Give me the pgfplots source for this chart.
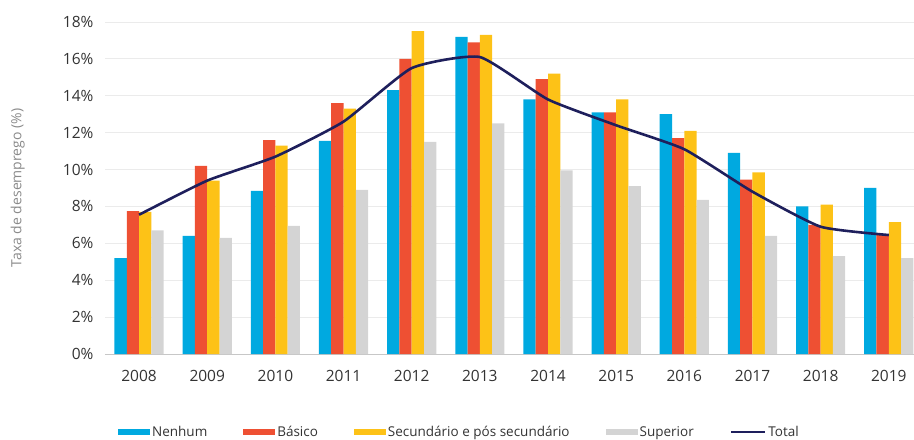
\documentclass[border=0pt]{standalone}
\usepackage{fontspec}
\setmainfont{Open Sans}
\usepackage{pgfplots}
\pgfplotsset{compat=1.18}
\definecolor{cNen}{HTML}{00A9E0}
\definecolor{cBas}{HTML}{EE5033}
\definecolor{cSec}{HTML}{FDC217}
\definecolor{cSup}{HTML}{D4D4D4}
\definecolor{cTot}{HTML}{1E1F5C}
\definecolor{cTick}{HTML}{333333}
\definecolor{cLab}{HTML}{8A8A8A}
\begin{document}
\begin{tikzpicture}
\begin{axis}[
  scale only axis, width=809bp, height=332bp,
  xmin=-0.5, xmax=11.37, ymin=0, ymax=18,
  ybar=0pt, bar width=12.3bp,
  axis line style={draw=none},
  tick style={draw=none},
  ymajorgrids, grid style={draw=black!8, line width=0.8bp},
  extra y ticks={0}, extra y tick labels={},
  extra y tick style={grid style={draw=black!22, line width=1bp}},
  xtick={0,...,11},
  xticklabels={2008,2009,2010,2011,2012,2013,2014,2015,2016,2017,2018,2019},
  ytick={0,2,...,18},
  yticklabel={\pgfmathprintnumber{\tick}\%},
  /pgf/number format/assume math mode=true,
  ticklabel style={font=\fontsize{15.5bp}{18bp}\selectfont, text=cTick},
  yticklabel style={xshift=-8bp},
  xticklabel style={yshift=-8bp},
  ylabel={Taxa de desemprego (\%)},
  ylabel style={at={(axis description cs:-0.108,0.5)}, anchor=center, font=\fontsize{14bp}{16bp}\selectfont, text=cLab},
  legend columns=5,
  legend style={at={(axis description cs:0.016,-0.235)}, anchor=west, draw=none, fill=none,
    inner xsep=0pt, font=\fontsize{13.5bp}{16bp}\selectfont, text=cTick,
    /tikz/every even column/.append style={column sep=34bp}},
]
\addplot[draw=none, fill=cNen, legend image code/.code={\fill[cNen] (0bp,-3bp) rectangle (32bp,3bp);}] coordinates
 {(0,5.2) (1,6.4) (2,8.85) (3,11.55) (4,14.3) (5,17.2) (6,13.8) (7,13.1) (8,13.0) (9,10.9) (10,8.0) (11,9.0)};
\addlegendentry{Nenhum}
\addplot[draw=none, fill=cBas, legend image code/.code={\fill[cBas] (0bp,-3bp) rectangle (32bp,3bp);}] coordinates
 {(0,7.75) (1,10.2) (2,11.6) (3,13.6) (4,16.0) (5,16.9) (6,14.9) (7,13.1) (8,11.7) (9,9.45) (10,7.0) (11,6.45)};
\addlegendentry{Básico}
\addplot[draw=none, fill=cSec, legend image code/.code={\fill[cSec] (0bp,-3bp) rectangle (32bp,3bp);}] coordinates
 {(0,7.7) (1,9.4) (2,11.3) (3,13.3) (4,17.5) (5,17.3) (6,15.2) (7,13.8) (8,12.1) (9,9.85) (10,8.1) (11,7.15)};
\addlegendentry{Secundário e pós secundário}
\addplot[draw=none, fill=cSup, legend image code/.code={\fill[cSup] (0bp,-3bp) rectangle (32bp,3bp);}] coordinates
 {(0,6.7) (1,6.3) (2,6.95) (3,8.9) (4,11.5) (5,12.5) (6,9.95) (7,9.1) (8,8.35) (9,6.4) (10,5.3) (11,5.2)};
\addlegendentry{Superior}
\addplot[sharp plot, smooth, tension=0.3, draw=cTot, line width=2.6bp, mark=none, fill=none,
  legend image code/.code={\draw[cTot, line width=2.6bp] (0bp,0bp) -- (34bp,0bp);}] coordinates
 {(0,7.55) (1,9.4) (2,10.7) (3,12.6) (4,15.5) (5,16.1) (6,13.8) (7,12.4) (8,11.1) (9,8.8) (10,6.9) (11,6.45)};
\addlegendentry{Total}
\end{axis}
\pgfresetboundingbox
\path (-105bp,-86bp) rectangle (809bp,354bp);
\end{tikzpicture}
\end{document}
